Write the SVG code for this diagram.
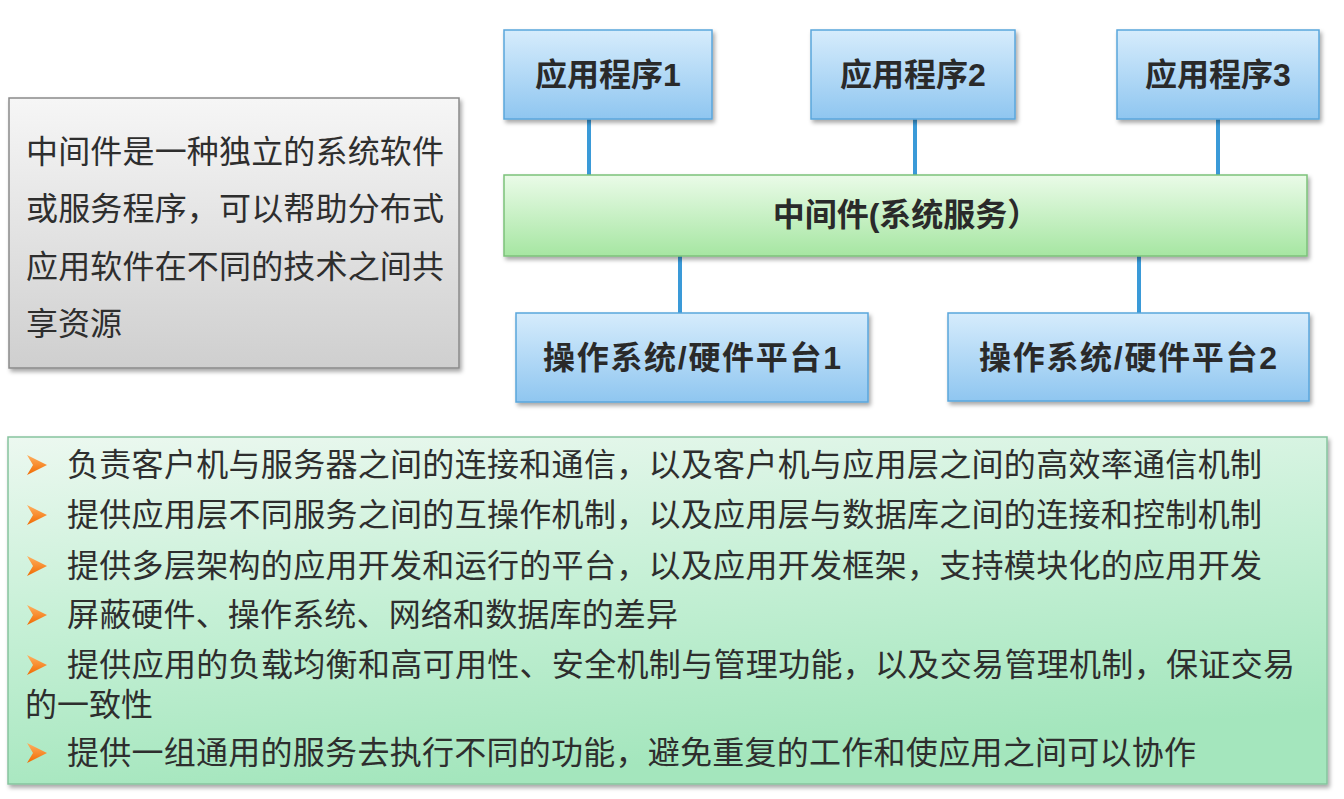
<svg xmlns="http://www.w3.org/2000/svg" width="1344" height="799" viewBox="0 0 1344 799">
<defs>
<linearGradient id="gBlue" x1="0" y1="0" x2="0" y2="1">
<stop offset="0" stop-color="#d6ecfc"/>
<stop offset="1" stop-color="#8fc6f0"/>
</linearGradient>
<linearGradient id="gGreen" x1="0" y1="0" x2="0" y2="1">
<stop offset="0" stop-color="#eafbe8"/>
<stop offset="1" stop-color="#a6e6a2"/>
</linearGradient>
<linearGradient id="gGray" x1="0" y1="0" x2="0" y2="1">
<stop offset="0" stop-color="#f6f6f6"/>
<stop offset="1" stop-color="#cfcfcf"/>
</linearGradient>
<linearGradient id="gMint" x1="0" y1="0" x2="0.3" y2="1">
<stop offset="0" stop-color="#ecf8f0"/>
<stop offset="0.5" stop-color="#c6f0d6"/>
<stop offset="1" stop-color="#a4e6bd"/>
</linearGradient>
<linearGradient id="gArrow" x1="0" y1="0" x2="0" y2="1">
<stop offset="0" stop-color="#ffb060"/>
<stop offset="1" stop-color="#f06a00"/>
</linearGradient>
<filter id="sh" x="-5%" y="-5%" width="110%" height="115%">
<feDropShadow dx="2" dy="3" stdDeviation="2" flood-color="#000" flood-opacity="0.35"/>
</filter>
<polygon id="arr" points="0,-10 20,0 0,10 6,0" fill="url(#gArrow)"/>
</defs>
<style>
.blue{fill:url(#gBlue);stroke:#5aa6dc;stroke-width:1.5}
.green{fill:url(#gGreen);stroke:#7cc27a;stroke-width:1.5}
.lbl{font-family:"Liberation Sans","Noto Sans CJK SC",sans-serif;font-weight:bold;font-size:32px;fill:#2a2a2a;text-anchor:middle}
.txt{font-family:"Noto Sans CJK SC",sans-serif;font-size:32px;fill:#2e2e2e}
.conn{stroke:#3a9ad8;stroke-width:4;fill:none}
</style>
<rect width="1344" height="799" fill="#ffffff"/>

<g id="desc">
<rect x="9" y="98" width="450" height="270" fill="url(#gGray)" stroke="#8a8a8a" stroke-width="1.5" filter="url(#sh)"/>
<text class="txt" x="26" y="163" textLength="418" lengthAdjust="spacing">中间件是一种独立的系统软件</text>
<text class="txt" x="26" y="220" textLength="418" lengthAdjust="spacing">或服务程序，可以帮助分布式</text>
<text class="txt" x="26" y="278" textLength="418" lengthAdjust="spacing">应用软件在不同的技术之间共</text>
<text class="txt" x="26" y="335" textLength="96" lengthAdjust="spacing">享资源</text>
</g>

<g id="connectors">
<line class="conn" x1="589" y1="119" x2="589" y2="175"/>
<line class="conn" x1="915" y1="119" x2="915" y2="175"/>
<line class="conn" x1="1218" y1="119" x2="1218" y2="175"/>
<line class="conn" x1="680" y1="256" x2="680" y2="313"/>
<line class="conn" x1="1139" y1="256" x2="1139" y2="313"/>
</g>

<g id="app1">
<rect class="blue" x="504" y="30" width="208" height="89" filter="url(#sh)"/>
<text class="lbl" x="608" y="86">应用程序1</text>
</g>
<g id="app2">
<rect class="blue" x="811" y="30" width="204" height="89" filter="url(#sh)"/>
<text class="lbl" x="913" y="86">应用程序2</text>
</g>
<g id="app3">
<rect class="blue" x="1117" y="30" width="202" height="89" filter="url(#sh)"/>
<text class="lbl" x="1218" y="86">应用程序3</text>
</g>
<g id="middleware">
<rect class="green" x="504" y="175" width="803" height="81" filter="url(#sh)"/>
<text class="lbl" x="906" y="226" font-size="31">中间件(系统服务）</text>
</g>
<g id="os1">
<rect class="blue" x="516" y="313" width="352" height="89" filter="url(#sh)"/>
<text class="lbl" x="692" y="369" textLength="298" lengthAdjust="spacing">操作系统/硬件平台1</text>
</g>
<g id="os2">
<rect class="blue" x="948" y="313" width="361" height="88" filter="url(#sh)"/>
<text class="lbl" x="1128" y="369" textLength="298" lengthAdjust="spacing">操作系统/硬件平台2</text>
</g>

<g id="features">
<rect x="8" y="437" width="1319" height="347" fill="url(#gMint)" stroke="#86c49e" stroke-width="1.5" filter="url(#sh)"/>
<use href="#arr" x="27" y="465"/>
<use href="#arr" x="27" y="515"/>
<use href="#arr" x="27" y="566"/>
<use href="#arr" x="27" y="615"/>
<use href="#arr" x="27" y="665"/>
<use href="#arr" x="27" y="753"/>
<text class="txt" x="67" y="476" textLength="1195" lengthAdjust="spacing">负责客户机与服务器之间的连接和通信，以及客户机与应用层之间的高效率通信机制</text>
<text class="txt" x="67" y="526" textLength="1195" lengthAdjust="spacing">提供应用层不同服务之间的互操作机制，以及应用层与数据库之间的连接和控制机制</text>
<text class="txt" x="67" y="577" textLength="1195" lengthAdjust="spacing">提供多层架构的应用开发和运行的平台，以及应用开发框架，支持模块化的应用开发</text>
<text class="txt" x="67" y="626" textLength="611" lengthAdjust="spacing">屏蔽硬件、操作系统、网络和数据库的差异</text>
<text class="txt" x="67" y="676" textLength="1228" lengthAdjust="spacing">提供应用的负载均衡和高可用性、安全机制与管理功能，以及交易管理机制，保证交易</text>
<text class="txt" x="25" y="716" textLength="128" lengthAdjust="spacing">的一致性</text>
<text class="txt" x="67" y="764" textLength="1129" lengthAdjust="spacing">提供一组通用的服务去执行不同的功能，避免重复的工作和使应用之间可以协作</text>
</g>
</svg>
